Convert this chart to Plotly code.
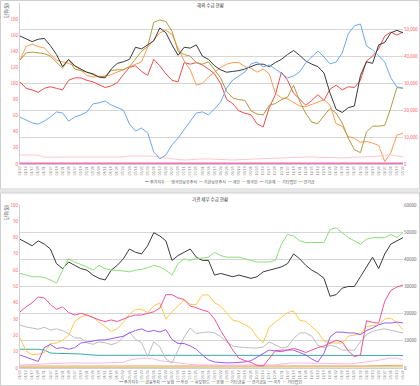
import plotly.graph_objects as go

dates = ["01/03","01/10","01/17","01/24","01/31","02/07","02/14","02/21","02/28","03/07",
         "03/14","03/21","03/28","04/04","04/11","04/18","04/25","05/02","05/09","05/16",
         "05/23","05/30","06/06","06/13","06/20","06/27","07/04","07/11","07/18","07/25",
         "08/01","08/08","08/15","08/22","08/29","09/05","09/12","09/19","09/26","10/03",
         "10/10","10/17","10/24","10/31","11/07","11/14","11/21","11/28","12/05","12/12",
         "12/19","12/26","01/02","01/09","01/16","01/23","01/30","02/06","02/13","02/20",
         "02/27","03/06","03/13","03/20"]

# ---- top chart (left axis 0-200) ----
top_index = [159,156,152,155,156,147,136,121,130,122,118,114,112,108,107,118,125,127,130,145,
             143,148,153,169,163,148,135,145,144,148,134,130,122,117,114,115,116,118,121,124,
             124,121,126,130,136,141,135,128,124,121,113,88,68,64,70,72,110,127,125,148,
             151,163,166,163]
top_pension = [129,138,139,138,137,134,126,119,130,118,116,114,111,108,109,116,117,117,121,131,
               140,146,176,179,177,165,140,136,134,126,124,127,117,107,90,82,80,79,66,62,
               61,73,75,80,83,98,78,63,52,50,60,69,63,51,32,18,14,40,47,47,
               48,70,95,94]
top_foreign = [129,146,149,146,144,137,129,127,125,122,117,110,108,109,109,111,114,117,120,123,
               127,145,154,163,166,161,144,128,117,98,100,108,114,120,124,126,126,121,119,114,
               118,112,88,82,81,76,72,71,74,77,80,73,50,47,34,32,27,28,26,23,
               3,14,36,38]
top_inst = [102,94,92,89,94,96,94,92,104,107,107,104,102,98,95,97,101,111,120,122,
            115,110,130,122,112,104,102,126,124,126,123,118,112,100,80,75,66,63,61,50,
            46,70,86,114,104,88,80,73,79,86,79,93,98,92,96,95,104,128,134,143,
            159,164,160,164]
# ---- top chart (right axis 0-60,000) ----
top_retail = [17500,16400,15300,14900,16000,17500,19400,19000,16000,17500,18300,19400,22400,22800,23500,
              22000,20900,20100,14900,12300,13400,11600,4500,1900,3400,7100,9700,12700,16000,19000,
              19400,18300,20500,23100,28300,31300,32800,34300,37300,38000,36200,36900,35400,33900,32100,
              32800,34300,37700,39900,42100,39900,37300,38000,41400,48500,51500,52200,44000,42500,40300,
              38000,32100,28700,28300]
top_corp = [3400,3400,3300,3300,2500,2600,2600,2600,2600,2600,2600,2600,2600,2600,2600,2600,2600,2600,
            3000,3000,3000,2900,2900,2600,2400,2000,1700,1500,1600,1800,1900,1900,1800,1700,
            1500,1500,1600,1700,1800,2000,2100,2200,2300,2400,2500,2600,2600,2600,2700,2500,2400,
            2300,2200,2300,2400,2500,2600,2600,2700,2900,3200,3400,3000,2700]
top_inst_hold = [250,250,250,250,250,250,250,250,250,250,250,250,250,250,250,250,250,250,250,250,
                 250,250,250,250,250,250,250,250,250,250,250,250,250,250,250,250,250,250,250,250,
                 250,250,250,250,250,250,250,250,250,250,250,250,250,250,250,250,250,250,250,250,
                 250,250,250,250]
top_frgn_hold = [100,100,100,100,100,100,100,100,100,100,100,100,100,100,100,100,100,100,100,100,
                 100,100,100,100,100,100,100,100,100,100,100,100,100,100,100,100,100,100,100,100,
                 100,100,100,100,100,100,100,100,100,100,100,100,100,100,100,100,100,100,100,100,
                 100,100,100,100]

# ---- bottom chart (left axis 0-100) ----
bot_index = [79,77,75,78,76,73,64,61,65,63,61,60,57,55,54,60,63,67,73,71,
             70,75,83,81,78,66,69,71,73,68,66,66,57,58,57,56,57,56,55,56,
             59,60,61,62,64,70,67,63,60,58,55,44,45,49,50,50,56,62,68,61,
             70,76,78,80]
bot_trust = [34.4,37.5,40,43.5,43,39,36,37.5,34,32.5,33.5,32.5,31,29.5,28.5,29.5,28.5,30,31.5,32.5,
             32.5,33.5,34.5,36.8,45,45,43,42,38,37,35.5,34.5,30,23,17,11,6,4.5,3.5,1.5,
             1.2,6,10.5,11,11,12,11,9.5,11,12.5,13.5,15.5,17,16,10.5,7,8,29,28,27.5,
             41,47.5,49.7,51]
bot_otherfin = [18.4,10.5,8.2,8.5,9.5,15,15.3,17,20,28.5,31.3,32.5,31.3,28,25.5,22.5,24,28,33,36,
                36,34,38,39.9,30,34.5,38,42,39,39,44.8,44.8,40,38,33.7,29.4,28.5,26.5,24.5,19,
                15.5,25.2,28,31,34,35,29.4,28.5,25.5,22,16.5,15.5,15.3,15.3,19.5,20.2,21,25.5,26,26.4,
                30,30.5,28,23.3]
bot_insur = [8,6.7,5.2,4,12.5,14.5,12,12.5,11.5,12.5,15.3,16,16.5,17.2,17.2,18,19,19.5,21.5,23,
             24,22.3,23,22.1,23.5,17.5,15,15,13.5,11.5,8,5,3.7,3.3,3.1,3.2,3.5,3.7,4.5,6.5,
             9,11,10.5,10,11,11,9.5,8,5.5,3.7,9,19,22,22,21.5,21.5,20.5,23,24.5,26.5,
             27.6,27.6,28.2,27.6]
bot_pension = [26.4,25.2,24.5,23.8,25,23.3,24,23,21,18.5,18.4,15.5,14.5,16,15.5,14.3,15.5,19,22,17.5,
               15.5,7,16,12.9,5.5,3,11,19,24.5,21,21.8,22.1,21.5,19.3,16,13.5,12.9,12.5,12.3,12.3,
               12.9,16,14,12.3,12.9,18,21.5,21.5,19.5,14,12.3,14,13,11,11,11,16,20.5,22.5,23.5,
               24,23.3,22.3,21.5]
bot_nation = [11.5,11.5,11.5,11.5,11,9.2,9,9,8.8,8.8,8.6,8.2,7.8,7.8,7.8,7.8,7.8,7.8,7.8,7.8,
              7.8,7.8,7.8,7.8,7.8,7.8,7.7,7.7,7.7,7.7,7.7,7.7,7.7,7.7,7.7,7.7,7.7,7.7,7.7,7.7,
              7.7,7.7,7.7,7.7,7.7,7.7,7.7,7.7,7.7,7.7,7.7,7.7,7.7,7.7,7.7,7.7,7.7,7.7,7.7,7.7,
              7.7,7.7,7.7,7.7]
bot_corp = [1.8,2,2.3,2.5,2.5,2.7,2.9,3.1,3.1,3.1,3,3,3,3,3.1,3.1,3.1,3.5,4.9,5.5,
            6,6,5.5,4.5,4,3.5,3,2.5,2.2,2,1.8,1.8,1.8,1.8,1.8,1.8,1.8,1.8,1.8,1.8,
            1.8,1.8,1.9,2.5,3,3.1,3.1,3.1,3.1,3,3,2.8,2.6,2.5,2.5,2.8,3.5,3.8,4.2,4.8,
            5.5,6.1,6.1,4.9]
bot_bank = [1.2,1.2,1.1,1.1,1.0,1.0,1.0,1.0,1.0,1.0,1.0,1.0,0.9,0.9,0.9,0.9,0.9,0.9,1.0,1.0,
            1.0,1.0,1.0,1.0,1.0,1.0,1.0,1.0,0.9,0.9,0.9,0.9,0.9,0.9,0.9,0.9,0.9,0.9,0.9,0.9,
            0.9,0.9,1.0,1.0,1.0,1.0,1.0,1.0,1.1,1.1,1.1,1.1,1.1,1.1,1.2,1.2,1.3,1.3,1.4,1.5,
            1.6,1.8,1.8,1.7]
bot_pef = [0.4,0.4,0.4,0.4,0.4,0.4,0.4,0.4,0.4,0.4,0.4,0.4,0.4,0.4,0.4,0.4,0.4,0.4,0.4,0.4,
           0.4,0.4,0.4,0.4,0.4,0.4,0.4,0.4,0.4,0.4,0.4,0.4,0.4,0.4,0.4,0.4,0.4,0.4,0.4,0.4,
           0.4,0.4,0.4,0.4,0.4,0.4,0.4,0.4,0.4,0.4,0.4,0.4,0.4,0.4,0.4,0.4,0.5,0.5,0.6,0.6,
           0.7,0.7,0.7,0.7]
# ---- bottom chart (right axis 0-60000) ----
bot_fininv = [34800,34200,33600,33600,33300,32400,31200,36000,40200,39000,38100,37200,36000,37800,36600,
              36000,36000,35700,35400,36000,36300,36900,37800,37200,36000,34200,38400,40200,39600,40200,
              40500,40800,42600,41400,40800,40800,40800,40200,39600,39000,39000,39000,39600,45600,49200,
              48600,46800,46200,46200,46200,46200,51000,51600,49800,48000,46800,45600,47400,48000,48000,
              48000,49200,48000,49800]

top_names = ["주가지수", "외국인보유주식", "기관보유주식", "개인", "외국인", "기관계", "기타법인", "연기금"]
top_colors = ["#3a3a3a", "#FFE08A", "#F06EBE", "#6AA8F7", "#FF9A50", "#F24B4B", "#FFC8D0", "#B59A3E"]
bot_names = ["주가지수", "금융투자", "보험", "투신", "사모펀드", "은행", "기타금융", "연기금등", "국가", "기타법인"]
bot_colors = ["#3a3a3a", "#8BE07A", "#9A5CF5", "#F2529A", "#C8C070", "#F4A460", "#FFC94A", "#BDBDBD", "#3FA7A7", "#F8B8F0"]

FONT = "Noto Sans CJK KR, DejaVu Sans, sans-serif"
W, H = 420, 386
def py(p):
    return 1 - p / H

fig = go.Figure()
def add(y, name, color, xa, ya, width=1.0):
    fig.add_trace(go.Scatter(x=dates, y=y, name=name, mode="lines", showlegend=False,
                             line=dict(color=color, width=width), xaxis=xa, yaxis=ya))

# top
add(top_frgn_hold, top_names[1], top_colors[1], "x", "y2")
add(top_inst_hold, top_names[2], top_colors[2], "x", "y2", 1.6)
add(top_corp, top_names[6], top_colors[6], "x", "y2")
add(top_retail, top_names[3], top_colors[3], "x", "y2")
add(top_inst, top_names[5], top_colors[5], "x", "y")
add(top_foreign, top_names[4], top_colors[4], "x", "y")
add(top_pension, top_names[7], top_colors[7], "x", "y")
add(top_index, top_names[0], top_colors[0], "x", "y")

# bottom
add(bot_pef, bot_names[4], bot_colors[4], "x3", "y3")
add(bot_bank, bot_names[5], bot_colors[5], "x3", "y3")
add(bot_corp, bot_names[9], bot_colors[9], "x3", "y3")
add(bot_nation, bot_names[8], bot_colors[8], "x3", "y3")
add(bot_pension, bot_names[7], bot_colors[7], "x3", "y3")
add(bot_otherfin, bot_names[6], bot_colors[6], "x3", "y3")
add(bot_insur, bot_names[2], bot_colors[2], "x3", "y3")
add(bot_trust, bot_names[3], bot_colors[3], "x3", "y3")
add(bot_index, bot_names[0], bot_colors[0], "x3", "y3")
add(bot_fininv, bot_names[1], bot_colors[1], "x3", "y4")

xdom = [20 / W, 403 / W]
xcommon = dict(type="category", categoryorder="array", categoryarray=dates,
               tickmode="array", tickvals=dates, ticktext=dates, tickangle=-90,
               tickfont=dict(size=3.5, color="#888", family=FONT), range=[0, len(dates) - 1],
               showgrid=False, showline=True, linecolor="#d0d0d0", ticks="", automargin=False,
               domain=xdom)
left_common = dict(showgrid=False, showline=True, linecolor="#d0d0d0", ticks="",
                   tickfont=dict(size=4.5, color="#FF5A5A", family=FONT), zeroline=False,
                   automargin=False)
right_common = dict(showgrid=True, gridcolor="#d6d6d6", gridwidth=1, side="right", ticks="",
                    zeroline=False, automargin=False, showline=False)

fig.update_layout(
    width=W, height=H, margin=dict(l=0, r=0, t=0, b=0),
    paper_bgcolor="white", plot_bgcolor="white", font=dict(family=FONT),
    xaxis=dict(**xcommon, anchor="y"),
    yaxis=dict(**left_common, domain=[py(164), py(3)], range=[0, 200], dtick=20),
    yaxis2=dict(**right_common, overlaying="y", anchor="x", range=[0, 60000], dtick=10000,
                tickformat=",", tickfont=dict(size=4.5, color="#FF5A5A", family=FONT)),
    xaxis3=dict(**xcommon, anchor="y3"),
    yaxis3=dict(**left_common, domain=[py(368), py(205)], range=[0, 100], dtick=10, anchor="x3"),
    yaxis4=dict(**right_common, overlaying="y3", anchor="x3", range=[0, 60000], dtick=10000,
                tickformat="d", tickfont=dict(size=4.5, color="#666", family=FONT)),
)

def legend_text(names, colors):
    parts = []
    for n, c in zip(names, colors):
        parts.append(f"<span style='color:{c}'>━</span> {n}")
    return "  ".join(parts)

ann = [
    dict(text="해외 수급 현황", x=210 / W, y=py(5), showarrow=False, xref="paper", yref="paper",
         font=dict(size=4.5, color="#333", family=FONT), xanchor="center", yanchor="middle"),
    dict(text="기관 세부 수급 현황", x=210 / W, y=py(199), showarrow=False, xref="paper", yref="paper",
         font=dict(size=4.5, color="#333", family=FONT), xanchor="center", yanchor="middle"),
    dict(text="단위(원)", x=7 / W, y=py(10), showarrow=False, xref="paper", yref="paper", textangle=-90,
         font=dict(size=4.5, color="#333", family=FONT), xanchor="center", yanchor="middle"),
    dict(text="단위(원)", x=7 / W, y=py(212), showarrow=False, xref="paper", yref="paper", textangle=-90,
         font=dict(size=4.5, color="#333", family=FONT), xanchor="center", yanchor="middle"),
    dict(text=legend_text(top_names, top_colors), x=230 / W, y=py(182), showarrow=False,
         xref="paper", yref="paper", font=dict(size=4, color="#555", family=FONT),
         xanchor="center", yanchor="middle"),
    dict(text=legend_text(bot_names, bot_colors), x=210 / W, y=py(381.5), showarrow=False,
         xref="paper", yref="paper", font=dict(size=4, color="#555", family=FONT),
         xanchor="center", yanchor="middle"),
]
fig.update_layout(annotations=ann)

shapes = [
    dict(type="rect", xref="paper", yref="paper", x0=0.5 / W, x1=1 - 0.5 / W, y0=py(189), y1=py(0.5),
         line=dict(color="#cfcfcf", width=1), fillcolor="rgba(0,0,0,0)", layer="below"),
    dict(type="rect", xref="paper", yref="paper", x0=0, x1=1, y0=py(193), y1=py(189),
         line=dict(width=0), fillcolor="#e6e6e6", layer="below"),
    dict(type="rect", xref="paper", yref="paper", x0=0.5 / W, x1=1 - 0.5 / W, y0=py(385.5), y1=py(193),
         line=dict(color="#cfcfcf", width=1), fillcolor="rgba(0,0,0,0)", layer="below"),
]
fig.update_layout(shapes=shapes)

fig.write_html("out.html", config={"displayModeBar": False},
               post_script="document.body.style.margin='0';document.body.style.overflow='hidden';")
